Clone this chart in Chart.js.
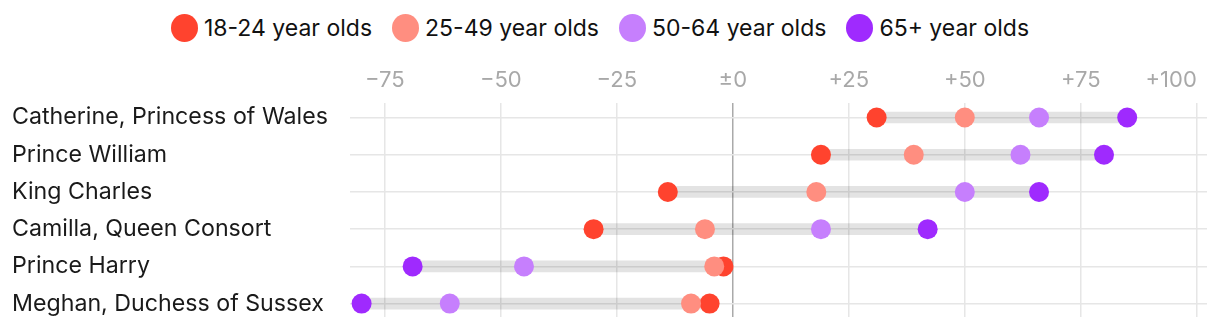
<!DOCTYPE html>
<html>
<head>
<meta charset="utf-8">
<script src="https://cdn.jsdelivr.net/npm/chart.js@4/dist/chart.umd.min.js"></script>
<style>
  body{margin:0;background:#fff;font-family:Inter, "Noto Sans", sans-serif;}
  .wrap{position:relative;width:1220px;height:328px;}
  .legend{position:absolute;top:14px;left:0;width:1200px;display:flex;justify-content:center;gap:20px;font-size:23px;color:#111;}
  .legend .item{display:flex;align-items:center;height:28px;}
  .legend .dot{width:27px;height:28px;border-radius:50%;margin-right:6px;}
  canvas{position:absolute;top:0;left:0;}
</style>
</head>
<body>
<div class="wrap">
  <div class="legend" id="legend"></div>
  <canvas id="c" width="1220" height="328"></canvas>
</div>
<script>
const categories = ['Catherine, Princess of Wales','Prince William','King Charles','Camilla, Queen Consort','Prince Harry','Meghan, Duchess of Sussex'];
const seriesNames = ['18-24 year olds','25-49 year olds','50-64 year olds','65+ year olds'];
const age18to24 = [31, 19, -14, -30, -2, -5];
const age25to49 = [50, 39, 18, -6, -4, -9];
const age50to64 = [66, 62, 50, 19, -45, -61];
const age65plus = [85, 80, 66, 42, -69, -80];
const xTicks = [-75, -50, -25, 0, 25, 50, 75, 100];

const colors = ['#ff432e','#ff8e80','#c67ffd','#9f2afe'];
const series = [age18to24, age25to49, age50to64, age65plus];

const fmt = v => v === 0 ? '±0' : (v > 0 ? '+' + v : '−' + Math.abs(v));

// legend
const legend = document.getElementById('legend');
seriesNames.forEach((name, i) => {
  const el = document.createElement('div');
  el.className = 'item';
  el.innerHTML = `<span class="dot" style="background:${colors[i]}"></span><span>${name}</span>`;
  legend.appendChild(el);
});

const ranges = categories.map((_, r) => {
  const vals = series.map(s => s[r]);
  return { x: [Math.min(...vals), Math.max(...vals)], y: r };
});

const tickLabels = {
  id: 'tickLabels',
  afterDraw(chart){
    const {ctx, scales:{x}, chartArea} = chart;
    ctx.save();
    ctx.font = '22px Inter';
    ctx.fillStyle = '#a8a8a8';
    ctx.textBaseline = 'middle';
    x.ticks.forEach((t, i) => {
      ctx.textAlign = i === x.ticks.length - 1 ? 'right' : 'center';
      ctx.fillText(fmt(t.value), x.getPixelForValue(t.value), chartArea.top - 23);
    });
    ctx.restore();
  }
};

new Chart(document.getElementById('c'), {
  type:'bar',
  data:{
    datasets:[
      { data: ranges, backgroundColor:'rgba(0,0,0,0.11)', barThickness:11, order:5, borderWidth:0 },
      ...series.map((s, i) => ({
        type:'line', label: seriesNames[i], showLine:false, order: 4 - i,
        data: s.map((v, r) => ({ x: v, y: r })),
        pointRadius:10, pointHoverRadius:10, pointBorderWidth:0,
        pointBackgroundColor: colors[i], backgroundColor: colors[i], clip:false
      }))
    ]
  },
  options:{
    indexAxis:'y',
    responsive:false,
    animation:false,
    events:[],
    layout:{ padding:{ top:103, left:12, right:13, bottom:11 } },
    plugins:{ legend:{display:false}, tooltip:{enabled:false} },
    scales:{
      x:{
        type:'linear', position:'top', min:-82.5, max:102.2,
        afterBuildTicks: s => { s.ticks = xTicks.map(v => ({value:v})); },
        ticks:{ display:false },
        grid:{ drawTicks:false, lineWidth:1.5, color: c => c.tick && c.tick.value === 0 ? '#aaaaaa' : '#e6e6e6' },
        border:{ display:false }
      },
      y:{
        type:'linear', reverse:true, min:-0.39, max:5.36, offset:false,
        afterBuildTicks: s => { s.ticks = categories.map((_, i) => ({value:i})); },
        afterFit: s => { s.width = 338; },
        ticks:{ crossAlign:'far', padding:0, color:'#1a1a1a', font:{ family:'Inter', size:23.2, lineHeight:0.9 },
          callback: v => categories[v] },
        grid:{ drawTicks:false, offset:false, lineWidth:1.5, color:'#e6e6e6' },
        border:{ display:false }
      }
    }
  },
  plugins:[tickLabels]
});
</script>
</body>
</html>
